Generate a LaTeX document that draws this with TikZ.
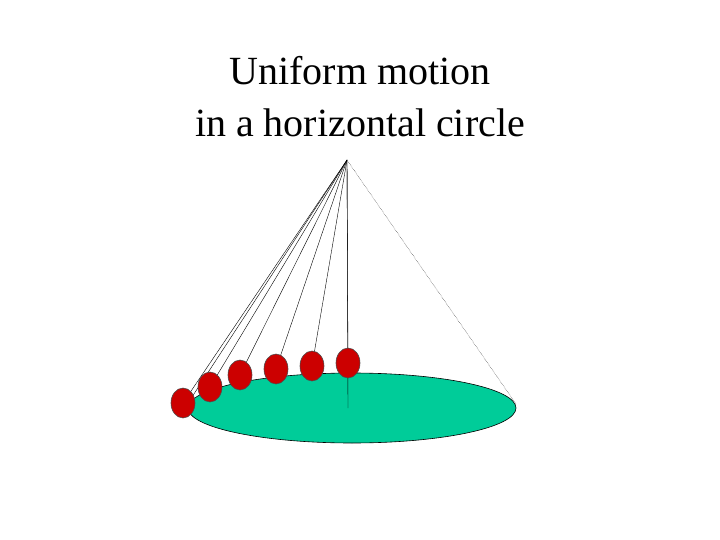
\documentclass[tikz,border=0pt]{standalone}
\usepackage{fontspec}
\setmainfont{Liberation Serif}
\usetikzlibrary{shapes.geometric}
\begin{document}
\begin{tikzpicture}[x=1pt,y=-1pt,
  bob/.style={draw=black!70,fill=red!80!black,line width=0.6pt},
  str/.style={draw=black,line width=0.4pt}]
\useasboundingbox (0,0) rectangle (720,540);
\node[align=center,font=\fontsize{40}{52}\selectfont] (title) at (360,97) {Uniform motion\\in a horizontal circle};
\coordinate (apex) at (347,160);
\coordinate (c) at (348,408);
\coordinate (r) at (516,404);
\coordinate (l) at (190,400);
\fill[fill={rgb,255:red,0;green,204;blue,153},draw=black,line width=0.6pt] (352,408) ellipse [x radius=164, y radius=35];
\draw[str] (apex) -- (c);
\draw[str,densely dotted] (apex) -- (r);
\draw[str] (apex) -- (l);
\foreach \n/\x/\y in {1/183/403,2/210/387,3/240/375,4/276/369,5/312/366,6/348/363}{
  \coordinate (b\n) at (\x,\y);
  \draw[str] (apex) -- (b\n);
}
\foreach \n in {1,...,6}{
  \node[bob,ellipse,minimum width=24pt,minimum height=30pt,inner sep=0pt] at (b\n) {};
}
\end{tikzpicture}
\end{document}
